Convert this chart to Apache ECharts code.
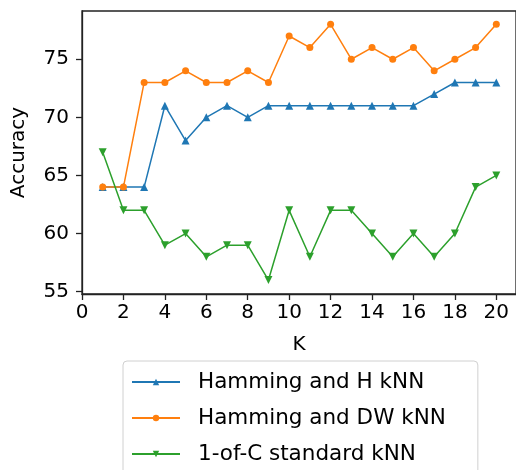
<!DOCTYPE html>
<html>
<head>
<meta charset="utf-8">
<script src="https://cdn.jsdelivr.net/npm/echarts@6/dist/echarts.min.js"></script>
<style>html,body{margin:0;padding:0;background:#fff}#c{width:516px;height:470px}</style>
</head>
<body>
<div id="c"></div>
<script>
var kValues = [1,2,3,4,5,6,7,8,9,10,11,12,13,14,15,16,17,18,19,20];
var hammingH = [64,64,64,71,68,70,71,70,71,71,71,71,71,71,71,71,72,73,73,73];
var hammingDW = [64,64,73,73,74,73,73,74,73,77,76,78,75,76,75,76,74,75,76,78];
var oneOfC = [67,62,62,59,60,58,59,59,56,62,58,62,62,60,58,60,58,60,64,65];
var seriesNames = ['Hamming and H kNN','Hamming and DW kNN','1-of-C standard kNN'];
var xTicks = [0,2,4,6,8,10,12,14,16,18,20];
var yTicks = [55,60,65,70,75];

function pairs(ys){ return kValues.map(function(k,i){ return [k, ys[i]]; }); }
var font = 'DejaVu Sans';
var chart = echarts.init(document.getElementById('c'), null, {renderer:'canvas'});
chart.setOption({
  animation:false,
  backgroundColor:'#fff',
  grid:{left:82, top:11, right:-4, bottom:176, show:true, borderColor:'#222', borderWidth:1.3, containLabel:false},
  xAxis:{
    type:'value', min:0, max:20.95,
    name:'K', nameLocation:'middle', nameGap:41,
    nameTextStyle:{fontFamily:font, fontSize:20, color:'#000'},
    axisLine:{show:true, onZero:false, lineStyle:{color:'#222', width:1.3}},
    axisTick:{show:true, length:6, inside:false, customValues:xTicks, lineStyle:{color:'#222', width:1.3}},
    axisLabel:{customValues:xTicks, margin:9, fontFamily:font, fontSize:20, color:'#000'},
    splitLine:{show:false}
  },
  yAxis:{
    type:'value', min:54.8, max:79.15,
    name:'Accuracy', nameLocation:'middle', nameGap:53, nameRotate:90,
    nameTextStyle:{fontFamily:font, fontSize:20, color:'#000'},
    axisLine:{show:true, onZero:false, lineStyle:{color:'#222', width:1.3}},
    axisTick:{show:true, length:6, inside:false, customValues:yTicks, lineStyle:{color:'#222', width:1.3}},
    axisLabel:{customValues:yTicks, margin:13, fontFamily:font, fontSize:20, color:'#000'},
    splitLine:{show:false}
  },
  legend:{
    orient:'vertical', left:123, top:361, height:140, width:380,
    padding:[10,32,30,8], itemGap:14, itemWidth:48, itemHeight:8,
    borderColor:'#d0d0d0', borderWidth:1, borderRadius:4, backgroundColor:'#fff',
    textStyle:{fontFamily:font, fontSize:21.5, lineHeight:21, color:'#000', padding:[0,0,0,13]},
    data:seriesNames
  },
  series:[
    {name:seriesNames[0], type:'line', data:pairs(hammingH), symbol:'triangle', symbolSize:8,
     itemStyle:{color:'#1f77b4'}, lineStyle:{width:1.5, color:'#1f77b4'}},
    {name:seriesNames[1], type:'line', data:pairs(hammingDW), symbol:'circle', symbolSize:7,
     itemStyle:{color:'#ff7f0e'}, lineStyle:{width:1.5, color:'#ff7f0e'}},
    {name:seriesNames[2], type:'line', data:pairs(oneOfC), symbol:'triangle', symbolRotate:180, symbolSize:8,
     itemStyle:{color:'#2ca02c'}, lineStyle:{width:1.5, color:'#2ca02c'}}
  ]
});
</script>
</body>
</html>
